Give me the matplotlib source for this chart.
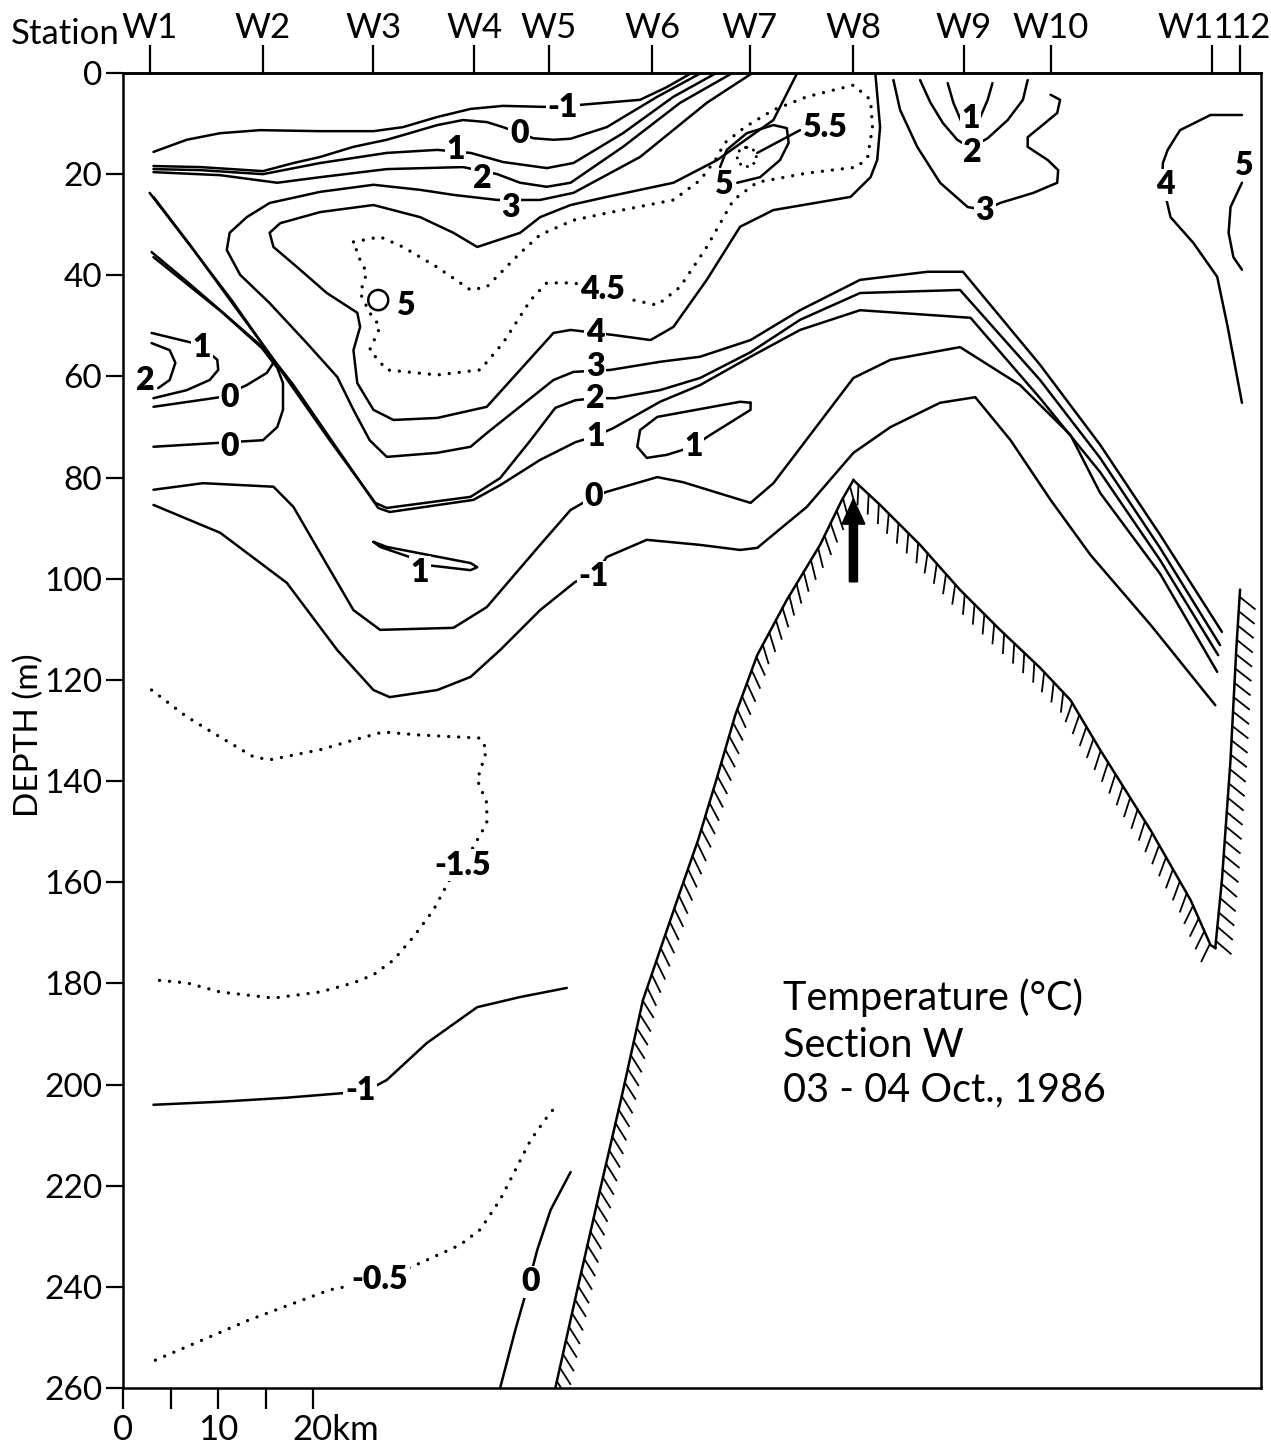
import matplotlib
matplotlib.use("Agg")
import matplotlib.pyplot as plt
from matplotlib import patheffects
from matplotlib.patches import Ellipse
from matplotlib.transforms import ScaledTranslation, blended_transform_factory

plt.rcParams['font.family'] = ['Lato', 'DejaVu Sans']

# --- Stations (km along section) ---
station_names = ['W1', 'W2', 'W3', 'W4', 'W5', 'W6', 'W7', 'W8', 'W9', 'W10', 'W11', '12']
station_km = [2.8, 14.7, 26.3, 36.9, 44.7, 55.6, 65.8, 76.7, 88.3, 97.4, 114.4, 117.3]

depth_ticks = list(range(0, 261, 20))
km_ticks = [0, 5, 10, 15, 20]
km_labels = ['0', '', '10', '', '20km']

# --- Isotherms, digitised: x [km], z [m] ---
m1_top_x = [3.2, 6.7, 10.2, 14.4, 20.7, 26.3, 29.4, 33.0, 36.5, 39.9, 44.3, 48.0, 54.3, 57.1, 59.7]
m1_top_z = [15.6, 13.2, 11.9, 11.3, 11.5, 11.5, 10.7, 8.7, 7.1, 6.5, 6.7, 6.3, 5.3, 2.8, 0.0]

t0_top_x = [3.2, 8.1, 14.7, 17.9, 20.7, 24.2, 27.7, 30.1, 33.0, 35.7, 38.2, 39.9, 43.1, 45.2, 47.0, 50.8, 56.1, 60.7]
t0_top_z = [18.4, 18.6, 19.4, 17.8, 16.6, 14.6, 13.2, 11.9, 10.3, 9.3, 9.7, 10.7, 12.9, 13.2, 13.0, 10.7, 4.7, 0.0]

t1_top_x = [3.2, 8.1, 14.7, 20.7, 27.7, 33.0, 36.5, 39.9, 44.5, 47.3, 52.5, 57.8, 62.3]
t1_top_z = [19.0, 19.2, 20.0, 17.8, 15.8, 15.2, 15.8, 17.6, 18.8, 17.8, 11.9, 4.7, 0.0]

t2_top_x = [3.2, 10.2, 16.2, 20.7, 27.7, 35.7, 39.3, 41.7, 44.5, 47.0, 52.5, 58.5, 64.0]
t2_top_z = [19.6, 20.2, 21.7, 20.6, 19.0, 18.6, 20.0, 21.7, 22.5, 21.7, 14.6, 5.9, 0.0]

t3_x = [66.1, 61.3, 54.3, 47.3, 43.8, 39.3, 34.7, 31.2, 26.3, 20.7, 15.4, 13.0, 11.2, 10.9, 12.3,
        15.4, 19.3, 22.5, 24.2, 25.9, 27.7, 33.0, 36.5, 38.2, 45.2, 47.3, 51.2, 56.4, 60.6, 65.9,
        71.1, 77.4, 84.5, 88.2, 96.3, 102.6, 108.9, 115.4]
t3_z = [0.0, 5.9, 16.6, 23.7, 25.1, 25.1, 24.1, 23.1, 22.1, 23.5, 25.7, 28.5, 31.6, 35.0, 39.9,
        45.5, 53.4, 60.1, 66.6, 72.6, 75.9, 75.1, 73.9, 71.2, 60.7, 59.1, 58.7, 57.1, 56.1, 52.8,
        46.9, 40.9, 39.3, 39.3, 57.7, 73.5, 91.3, 110.5]

t4_x = [70.8, 68.3, 62.4, 57.8, 50.8, 47.0, 43.8, 41.7, 37.2, 34.7, 31.2, 26.3, 20.7, 16.5, 15.4,
        15.8, 18.3, 21.4, 24.6, 24.9, 24.2, 24.6, 26.3, 28.4, 33.0, 38.2, 41.7, 45.2, 47.0, 51.5,
        55.4, 57.8, 61.3, 64.8, 68.3, 76.4, 78.5, 79.2, 79.5, 79.0]
t4_z = [0.0, 9.3, 17.2, 21.7, 24.5, 26.1, 28.5, 31.6, 34.4, 31.6, 28.5, 26.1, 27.5, 29.7, 31.6,
        34.4, 38.4, 43.5, 47.4, 50.2, 54.8, 61.3, 66.6, 68.6, 68.2, 66.0, 58.7, 51.4, 50.8, 51.8,
        52.8, 50.2, 40.9, 30.4, 27.1, 24.5, 20.6, 17.2, 10.7, 0.0]

t45_x = [24.2, 27.0, 29.4, 33.0, 36.5, 38.2, 41.7, 43.8, 47.3, 50.8, 57.8, 60.6, 62.2, 63.2, 65.3,
         68.3, 71.8, 76.7, 78.5, 78.7, 78.2, 77.1, 71.8, 66.6, 64.1, 61.3, 58.5, 56.1, 53.6, 50.4,
         47.3, 44.5, 42.8, 39.9, 37.5, 33.0, 27.7, 25.9, 27.0, 25.9, 24.9, 25.6, 24.9, 24.2]
t45_z = [33.4, 32.4, 34.4, 38.4, 42.9, 42.3, 35.6, 32.0, 29.1, 27.7, 25.1, 21.2, 17.2, 13.8, 10.7,
         7.3, 4.7, 2.4, 5.3, 10.7, 16.6, 18.6, 19.8, 21.6, 25.1, 34.4, 42.3, 45.9, 44.9, 42.9,
         41.5, 41.5, 44.9, 53.4, 58.7, 59.7, 58.7, 54.8, 50.2, 47.4, 43.5, 39.5, 37.0, 33.4]

t5_w7_x = [62.7, 63.4, 65.5, 68.3, 69.7, 69.9, 69.0, 66.9, 64.5]
t5_w7_z = [18.6, 15.2, 11.9, 10.3, 10.9, 13.8, 17.2, 20.6, 21.7]
t5_w3_center = (26.8, 44.9)
t55_center = (65.5, 16.6)
t55_leader_x = [66.6, 71.1]
t55_leader_z = [15.8, 11.3]

t3_w9_x = [80.9, 81.6, 83.4, 85.8, 88.7, 90.5, 92.1, 95.6, 98.1, 98.2, 97.1, 95.0, 95.0, 96.3, 98.1, 98.4, 97.4]
t3_w9_z = [1.4, 7.3, 14.6, 21.7, 26.5, 27.1, 25.7, 23.7, 21.7, 19.2, 17.2, 14.6, 12.7, 10.7, 7.9, 5.3, 4.3]
t2_w9_x = [83.7, 84.8, 86.1, 87.6, 89.0, 90.8, 92.9, 94.5, 95.0]
t2_w9_z = [1.4, 5.9, 9.9, 13.2, 14.8, 12.9, 9.3, 5.3, 1.4]
t1_w9_x = [86.6, 87.2, 88.1, 89.0, 89.8, 90.8, 91.3]
t1_w9_z = [2.0, 5.9, 9.9, 10.9, 9.7, 5.3, 2.0]
t4_w11_x = [117.5, 114.2, 111.0, 109.7, 109.2, 109.1, 109.5, 110.0, 112.4, 114.9, 116.0, 117.5]
t4_w11_z = [8.3, 8.3, 11.3, 15.2, 17.8, 21.7, 24.5, 28.5, 33.6, 40.3, 50.2, 65.2]
t5_w11_x = [117.5, 116.3, 116.1, 116.6, 117.5]
t5_w11_z = [21.7, 26.5, 31.6, 36.4, 38.9]

t1_w1_x = [3.0, 7.4, 8.3, 9.9, 10.0, 9.1, 6.7, 3.2]
t1_w1_z = [51.4, 53.4, 54.2, 56.7, 58.7, 60.7, 62.7, 64.3]
t2_w1_x = [3.0, 4.9, 5.5, 4.9, 3.7]
t2_w1_z = [53.4, 54.8, 57.3, 60.7, 62.3]
t0_w1a_x = [3.2, 10.2, 13.0, 15.1, 15.8, 14.4, 10.2, 6.5, 3.0]
t0_w1a_z = [66.0, 64.1, 61.7, 59.3, 57.3, 53.8, 46.9, 40.9, 35.4]
t0_w1b_x = [3.2, 14.7, 16.2, 16.8, 16.8, 16.2, 14.6, 10.4, 6.7, 3.2]
t0_w1b_z = [73.9, 72.6, 70.0, 66.6, 61.3, 58.3, 54.4, 47.3, 41.7, 36.4]

t2_low_x = [2.8, 7.0, 11.4, 15.8, 17.5, 21.7, 26.5, 27.7, 36.5, 39.6, 42.8, 45.4, 47.5, 49.6, 51.7,
            56.4, 60.6, 65.9, 71.1, 77.4, 87.9, 96.3, 102.6, 108.9, 115.2]
t2_low_z = [23.7, 34.0, 44.9, 56.7, 61.3, 72.6, 85.0, 86.0, 83.8, 80.1, 72.6, 66.2, 64.7, 64.3, 64.3,
            62.7, 60.3, 55.2, 48.8, 43.5, 42.9, 60.7, 76.1, 93.9, 113.1]
t1_low_x = [3.2, 7.2, 11.4, 16.0, 17.9, 22.1, 26.8, 28.0, 36.8, 39.6, 43.8, 47.5, 49.6, 51.5, 56.4,
            60.6, 65.9, 71.1, 77.4, 89.0, 96.3, 102.6, 108.9, 115.0]
t1_low_z = [24.5, 34.4, 45.3, 57.1, 61.7, 73.2, 86.0, 86.8, 84.4, 81.5, 76.5, 73.0, 71.8, 70.2, 65.0,
            61.7, 56.1, 50.8, 46.9, 48.4, 64.3, 78.9, 96.3, 115.1]
t0_low_x = [3.2, 8.4, 15.8, 17.9, 20.7, 24.2, 27.0, 34.7, 38.2, 43.8, 47.0, 48.3, 49.4, 50.8, 56.1,
            58.8, 65.9, 68.3, 76.7, 80.6, 87.9, 94.2, 99.5, 102.6, 108.9, 114.9]
t0_low_z = [82.4, 81.1, 81.8, 85.8, 94.9, 106.2, 110.1, 109.7, 105.6, 93.3, 86.4, 85.0, 83.8, 82.8, 79.9,
            80.9, 85.0, 81.1, 60.3, 56.7, 54.2, 61.7, 71.6, 83.0, 99.0, 118.4]
m1_low_x = [3.2, 10.2, 17.2, 22.5, 26.3, 28.0, 33.0, 36.5, 39.6, 43.8, 47.5, 49.4, 50.8, 55.0, 60.6,
            64.8, 66.6, 71.8, 76.7, 80.6, 85.8, 89.5, 93.2, 97.4, 101.6, 107.9, 114.7]
m1_low_z = [85.4, 90.9, 100.8, 114.1, 122.0, 123.4, 122.0, 119.4, 114.1, 106.2, 100.6, 99.6, 95.7, 92.3, 93.3,
            94.3, 93.9, 85.8, 75.1, 70.0, 65.2, 64.1, 72.6, 84.4, 95.3, 109.1, 125.0]

t1_loop_w3_x = [26.3, 27.7, 36.5, 37.2, 36.5, 31.9, 30.1, 27.0, 26.3]
t1_loop_w3_z = [92.7, 93.7, 96.9, 97.7, 98.3, 97.3, 95.7, 93.7, 92.7]
t1_loop_w6_x = [65.9, 64.8, 56.1, 54.3, 54.0, 55.0, 57.1, 58.8, 59.9, 61.3, 65.9, 65.9]
t1_loop_w6_z = [65.2, 65.0, 68.0, 70.6, 73.9, 76.1, 75.5, 74.5, 73.9, 72.0, 66.6, 65.2]

m15_x = [3.0, 6.7, 10.2, 13.7, 15.4, 20.7, 24.2, 27.3, 31.2, 37.5, 38.2, 37.2, 38.2, 38.2, 36.8,
         35.7, 34.3, 32.6, 30.5, 28.4, 26.3, 24.2, 20.7, 15.8, 10.2, 6.7, 3.2]
m15_z = [122.0, 127.3, 131.3, 135.2, 135.8, 133.8, 131.9, 130.3, 130.9, 131.5, 133.8, 139.8, 144.3, 148.3, 153.0,
         156.6, 159.5, 165.5, 170.8, 175.4, 178.3, 179.9, 181.7, 182.9, 181.7, 179.9, 179.3]
m1_deep_x = [3.2, 10.2, 17.2, 23.1, 24.9, 26.7, 27.7, 31.9, 37.2, 41.7, 46.6]
m1_deep_z = [204.0, 203.4, 202.6, 201.7, 201.1, 200.1, 199.1, 191.8, 184.7, 182.7, 180.9]
m05_x = [3.4, 13.3, 21.7, 27.0, 31.2, 35.4, 37.5, 39.6, 41.2, 42.8, 44.3, 45.4]
m05_z = [254.5, 246.5, 240.6, 238.6, 235.3, 231.7, 228.7, 222.8, 216.9, 211.0, 207.0, 204.4]
t0_deep_x = [39.6, 41.2, 42.4, 43.5, 44.9, 47.0]
t0_deep_z = [260.0, 248.5, 240.6, 232.7, 224.8, 217.3]

# --- Bottom profile ---
floor_x = [45.4, 47.7, 50.1, 52.4, 54.6, 56.4, 58.2, 60.4, 62.3, 64.3, 66.6, 69.7, 73.2, 75.5, 76.7,
           79.5, 83.7, 87.9, 92.1, 96.3, 99.5, 102.6, 107.9, 112.1, 114.2, 114.7,
           115.4, 116.3, 116.9, 117.3]
floor_z = [260.0, 240.6, 220.8, 202.1, 183.3, 173.4, 163.5, 151.6, 139.8, 126.9, 115.1, 104.2, 93.3, 84.4, 80.5,
           85.4, 93.3, 102.2, 110.1, 117.6, 124.0, 133.8, 149.7, 163.5, 172.4, 173.0,
           159.5, 135.8, 114.1, 102.2]
i_peak, i_trough = 14, 25

# --- Contour labels ---
lab_text = ['-1', '0', '1', '2', '3', '4', '4.5', '5', '5', '5.5', '3', '2', '1', '0', '-1',
            '1', '1', '1', '2', '0', '0', '1', '2', '3', '4', '5', '-1.5', '-1', '-0.5', '0']
lab_x = [46.2, 41.6, 34.9, 37.7, 40.7, 49.6, 50.4, 29.6, 63.0, 73.7, 49.6, 49.6, 49.6, 49.4, 49.4,
         59.9, 31.2, 8.3, 2.3, 11.2, 11.2, 89.0, 89.2, 90.5, 109.5, 117.6, 35.7, 24.9, 27.0, 42.8]
lab_z = [6.9, 11.9, 15.2, 20.8, 26.5, 51.4, 42.9, 45.9, 22.1, 10.7, 58.1, 64.3, 71.8, 83.8, 99.6,
         73.9, 98.7, 54.2, 60.7, 64.1, 73.9, 8.9, 15.8, 27.1, 22.1, 18.2, 156.6, 201.1, 238.6, 239.0]

solid = [(m1_top_x, m1_top_z), (t0_top_x, t0_top_z), (t1_top_x, t1_top_z), (t2_top_x, t2_top_z),
         (t3_x, t3_z), (t4_x, t4_z), (t5_w7_x, t5_w7_z), (t55_leader_x, t55_leader_z),
         (t3_w9_x, t3_w9_z), (t2_w9_x, t2_w9_z), (t1_w9_x, t1_w9_z), (t4_w11_x, t4_w11_z),
         (t5_w11_x, t5_w11_z), (t1_w1_x, t1_w1_z), (t2_w1_x, t2_w1_z), (t0_w1a_x, t0_w1a_z),
         (t0_w1b_x, t0_w1b_z), (t2_low_x, t2_low_z), (t1_low_x, t1_low_z), (t0_low_x, t0_low_z),
         (m1_low_x, m1_low_z), (t1_loop_w3_x, t1_loop_w3_z), (t1_loop_w6_x, t1_loop_w6_z),
         (m1_deep_x, m1_deep_z), (t0_deep_x, t0_deep_z)]
dotted = [(t45_x, t45_z), (m15_x, m15_z), (m05_x, m05_z)]

fig = plt.figure(figsize=(12.71, 14.49), dpi=100)
ax = fig.add_axes([123 / 1271, 61 / 1449, 1138 / 1271, 1315 / 1449])
ax.set_xlim(0, 119.5)
ax.set_ylim(260, 0)

LW = 1.8
for x, z in solid:
    ax.plot(x, z, color='k', lw=LW, solid_capstyle='round', solid_joinstyle='round')
for x, z in dotted:
    ax.plot(x, z, color='k', lw=2.4, linestyle=(0, (0.01, 3.0)), dash_capstyle='round')

ax.add_patch(Ellipse(t5_w3_center, 2.1, 4.0, fill=False, lw=LW, ec='k'))
ax.add_patch(Ellipse(t55_center, 2.0, 3.8, fill=False, lw=2.2, ec='k',
                     linestyle=(0, (0.01, 2.4)), capstyle='round'))

# bottom with hatching on the ground side
def ticked(angle):
    return [patheffects.withTickedStroke(angle=angle, spacing=10, length=1.4, linewidth=1.3)]

ax.plot(floor_x[:i_peak + 1], floor_z[:i_peak + 1], color='k', lw=LW, path_effects=ticked(-135))
ax.plot(floor_x[i_peak:i_trough + 1], floor_z[i_peak:i_trough + 1], color='k', lw=LW, path_effects=ticked(-50))
ax.plot(floor_x[i_trough:], floor_z[i_trough:], color='k', lw=LW, path_effects=ticked(-125))

# arrow at W8
ax.arrow(station_km[7], 100.6, 0, -16.4, width=0.85, head_width=2.4, head_length=5.0,
         length_includes_head=True, fc='k', ec='k')

for s, x, z in zip(lab_text, lab_x, lab_z):
    ax.text(x, z, s, ha='center', va='center', fontsize=23, fontweight='heavy', zorder=5,
            bbox=dict(boxstyle='square,pad=0.05', fc='white', ec='none'))

ax.text(69.3, 182.9, 'Temperature (°C)', fontsize=28.5, ha='left', va='center')
ax.text(69.3, 192.2, 'Section W', fontsize=28.5, ha='left', va='center')
ax.text(69.3, 201.1, '03 - 04 Oct., 1986', fontsize=28.5, ha='left', va='center')

# axes
for sp in ax.spines.values():
    sp.set_linewidth(1.8)
ax.set_yticks(depth_ticks)
ax.tick_params(axis='y', length=12, width=1.6, pad=3, labelsize=24)
ax.set_xticks(km_ticks, labels=km_labels)
ax.tick_params(axis='x', length=15, width=1.6, pad=4, labelsize=25)
t20 = ax.xaxis.get_major_ticks()[4].label1
t20.set_horizontalalignment('left')
t20.set_transform(t20.get_transform() + ScaledTranslation(-0.21, 0, fig.dpi_scale_trans))

top = ax.secondary_xaxis('top')
top.set_xticks(station_km, labels=station_names)
top.tick_params(length=20, width=1.6, pad=1, labelsize=25)
top.spines['top'].set_linewidth(1.8)
top_ticks = top.xaxis.get_major_ticks()
for idx, dx in [(10, -0.17), (11, 0.1)]:
    lab = top_ticks[idx].label2
    lab.set_transform(lab.get_transform() + ScaledTranslation(dx, 0, fig.dpi_scale_trans))

blend = blended_transform_factory(ax.transData, ax.transAxes)
ax.text(-0.4, 1.0172, 'Station', transform=blend, fontsize=25, ha='right', va='bottom')
ax.text(-0.083, 0.4966, 'DEPTH (m)', transform=ax.transAxes, fontsize=24, rotation=90,
        ha='center', va='center')

fig.savefig('out.png', dpi=100)
